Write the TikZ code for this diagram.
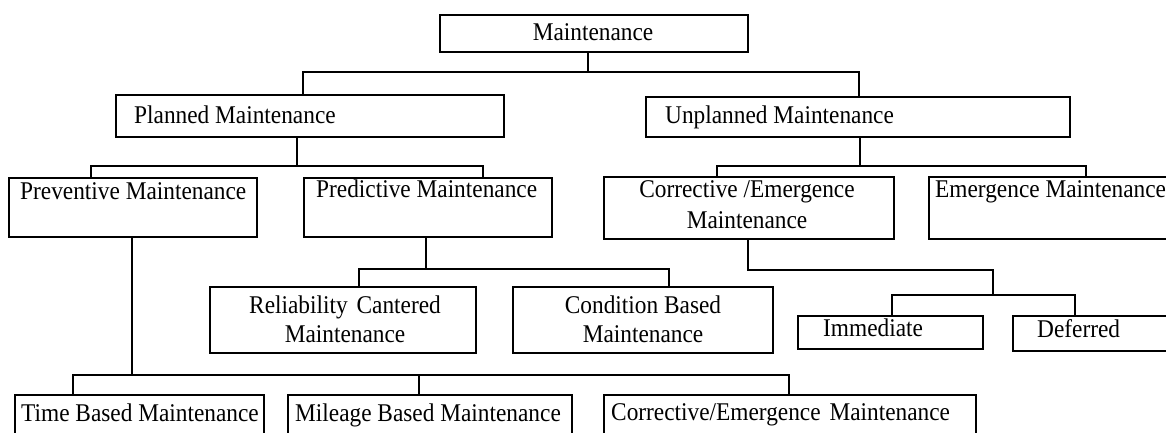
\documentclass[tikz,border=0pt]{standalone}
\usepackage{fontspec}
\setmainfont{Liberation Serif}[FakeStretch=0.915]
\begin{document}
\begin{tikzpicture}[x=1pt,y=-1pt,
  box/.style={draw=black, line width=2pt, inner sep=0pt, anchor=north west},
  txt/.style={inner sep=0pt, font=\fontsize{25.5}{30}\selectfont},
  lt/.style={txt, anchor=base west},
  ct/.style={txt, anchor=base},
  conn/.style={draw=black, line width=2pt}]
\clip (0,0) rectangle (1166,433);
\fill[white] (0,0) rectangle (1166,433);
% boxes
\node[box, minimum width=308pt, minimum height=37pt] (m)   at (439,14) {};
\node[box, minimum width=388pt, minimum height=42pt] (pl)  at (115,94) {};
\node[box, minimum width=424pt, minimum height=40pt] (un)  at (645,96) {};
\node[box, minimum width=248pt, minimum height=59pt] (pv)  at (8,177) {};
\node[box, minimum width=248pt, minimum height=59pt] (pd)  at (303,177) {};
\node[box, minimum width=290pt, minimum height=62pt] (ce)  at (603,176) {};
\node[box, minimum width=260pt, minimum height=62pt] (em)  at (928,176) {};
\node[box, minimum width=266pt, minimum height=66pt] (rc)  at (209,286) {};
\node[box, minimum width=260pt, minimum height=66pt] (cb)  at (512,286) {};
\node[box, minimum width=185pt, minimum height=33pt] (im)  at (797,315) {};
\node[box, minimum width=180pt, minimum height=35pt] (df)  at (1012,315) {};
\node[box, minimum width=249pt, minimum height=60pt] (tb)  at (14,394) {};
\node[box, minimum width=284pt, minimum height=60pt] (mb)  at (287,394) {};
\node[box, minimum width=372pt, minimum height=60pt] (cem) at (603,394) {};
% texts
\node[ct] (mT)   at (593,40.5) {Maintenance};
\node[lt] (plT)  at (134,124) {Planned Maintenance};
\node[lt] (unT)  at (665,124) {Unplanned Maintenance};
\node[lt] (pvT)  at (20,199) {Preventive Maintenance};
\node[lt] (pdT)  at (316,197) {Predictive Maintenance};
\node[ct] (ceT1) at (747,197) {Corrective /Emergence};
\node[ct] (ceT2) at (747,228) {Maintenance};
\node[lt] (emT)  at (935,197) {Emergence Maintenance};
\node[ct] (rcT1) at (345,313) {Reliability\hspace{3pt} Cantered};
\node[ct] (rcT2) at (345,342) {Maintenance};
\node[ct] (cbT1) at (643,313) {Condition Based};
\node[ct] (cbT2) at (643,342) {Maintenance};
\node[lt] (imT)  at (823,336) {Immediate};
\node[lt] (dfT)  at (1037,337) {Deferred};
\node[lt] (tbT)  at (21,421) {Time Based Maintenance};
\node[lt] (mbT)  at (295,421) {Mileage Based Maintenance};
\node[lt] (cemT) at (611,420) {Corrective/Emergence\hspace{3pt} Maintenance};
% connectors
\draw[conn] ([xshift=-6pt]m.south) -- ++(0,19) coordinate (j1);
\draw[conn] ([xshift=188pt]pl.north west) |- (j1) -| ([xshift=214pt]un.north west);
\draw[conn] ([xshift=182pt]pl.south west) -- ++(0,28) coordinate (j2);
\draw[conn] ([xshift=83pt]pv.north west) |- (j2) -| ([xshift=180pt]pd.north west);
\draw[conn] ([xshift=215pt]un.south west) -- ++(0,28) coordinate (j3);
\draw[conn] ([xshift=114pt]ce.north west) |- (j3) -| ([xshift=158pt]em.north west);
\draw[conn] ([xshift=123pt]pd.south west) -- ++(0,31) coordinate (j4);
\draw[conn] ([xshift=150pt]rc.north west) |- (j4) -| ([xshift=157pt]cb.north west);
\coordinate (j5) at (993,295);
\draw[conn] ([xshift=145pt]ce.south west) -- ++(0,30) -| (j5);
\draw[conn] ([xshift=95pt]im.north west) |- (j5) -| ([xshift=63pt]df.north west);
\draw[conn] ([xshift=124pt]pv.south west) -- ++(0,137) coordinate (j6);
\draw[conn] ([xshift=59pt]tb.north west) |- (j6) -| ([xshift=186pt]cem.north west);
\draw[conn] ([xshift=132pt]mb.north west) |- (j6);
\end{tikzpicture}
\end{document}
